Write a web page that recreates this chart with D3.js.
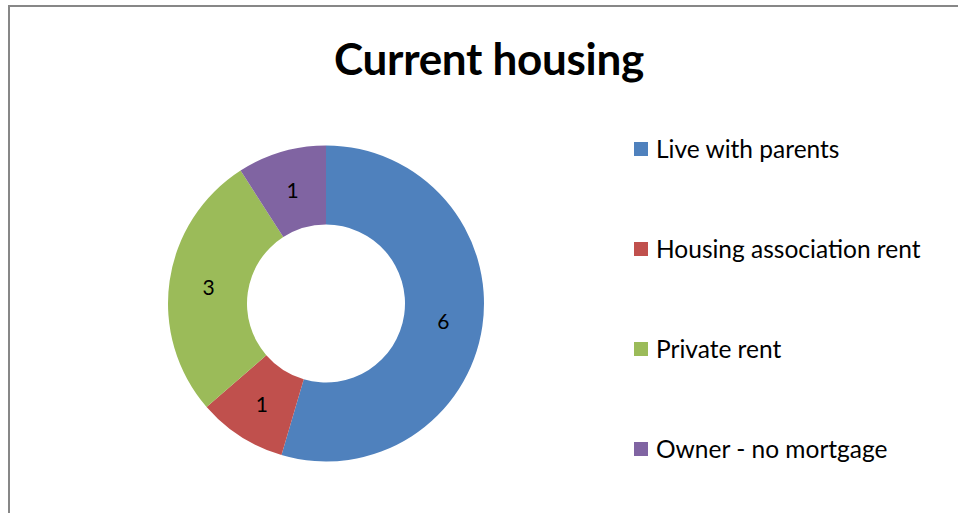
<!DOCTYPE html>
<html>
<head>
<meta charset="utf-8">
<script src="https://cdn.jsdelivr.net/npm/d3@7"></script>
<style>
  body { margin: 0; background: #fff; }
  svg { display: block; font-family: Lato, "Open Sans", sans-serif; }
</style>
</head>
<body>
<div id="chart"></div>
<script>
let width = 958, height = 513;

const categories = ["Live with parents", "Housing association rent", "Private rent", "Owner - no mortgage"];
const values = [6, 1, 3, 1];
const colors = ["#4F81BD", "#C0504D", "#9BBB59", "#8064A2"];

const svg = d3.select("#chart") //svg that fills the window
    .append("svg")
    .attr("width", width)
    .attr("height", height);

// chart frame (runs off the right and bottom edge)
svg.append("rect")
    .attr("x", 9)
    .attr("y", 6)
    .attr("width", width + 20)
    .attr("height", height + 20)
    .attr("fill", "#fff")
    .attr("stroke", "#878787")
    .attr("stroke-width", 2);

svg.append("text")
    .attr("x", 489)
    .attr("y", 75)
    .attr("text-anchor", "middle")
    .attr("font-size", 44)
    .attr("font-weight", "bold")
    .attr("letter-spacing", -0.3)
    .attr("fill", "#000")
    .text("Current housing");

let data = categories.map((c, i) => ({ cat: c, value: values[i] }));

let color = d3.scaleOrdinal()
    .domain(categories)
    .range(colors);

let pie = d3.pie()
    .value(d => d.value)
    .sort(null);

let outer = 158, inner = 79;

let arc = d3.arc()
    .innerRadius(inner)
    .outerRadius(outer);

let labelArc = d3.arc() //labels sit in the middle of the ring
    .innerRadius((inner + outer) / 2)
    .outerRadius((inner + outer) / 2);

let g = svg.append("g")
    .attr("transform", "translate(326,303.5)");

g.selectAll("path")
    .data(pie(data))
    .join("path")
    .attr("d", arc)
    .attr("fill", d => color(d.data.cat));

g.selectAll("text")
    .data(pie(data))
    .join("text")
    .attr("transform", d => `translate(${labelArc.centroid(d)})`)
    .attr("text-anchor", "middle")
    .attr("dominant-baseline", "central")
    .attr("font-size", 21)
    .attr("fill", "#000")
    .text(d => d.data.value);

// legend
let legend = svg.append("g")
    .selectAll("g")
    .data(categories)
    .join("g")
    .attr("transform", (d, i) => `translate(634,${149 + i * 100})`);

legend.append("rect")
    .attr("x", 0)
    .attr("y", -7)
    .attr("width", 14)
    .attr("height", 14)
    .attr("fill", d => color(d));

legend.append("text")
    .attr("x", 22)
    .attr("y", -1)
    .attr("dominant-baseline", "central")
    .attr("font-size", 24.5)
    .attr("fill", "#000")
    .text(d => d);
</script>
</body>
</html>
